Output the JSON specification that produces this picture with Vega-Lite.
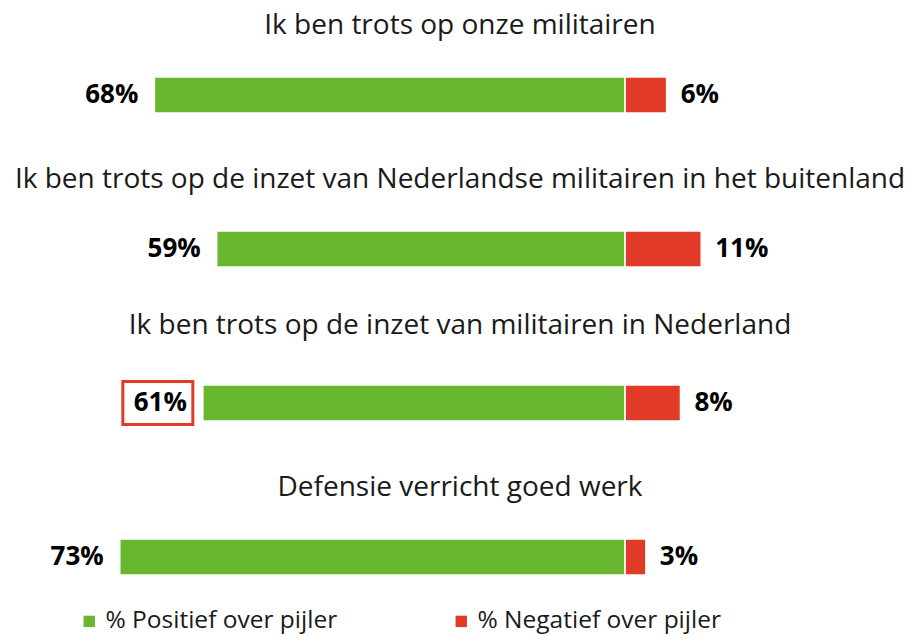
{
  "$schema": "https://vega.github.io/schema/vega-lite/v6.json",
  "background": "white",
  "padding": {"left": 0, "right": 0, "top": 12, "bottom": 30},
  "bounds": "flush",
  "config": {
    "view": {"stroke": null},
    "font": "Open Sans",
    "concat": {"spacing": 118},
    "title": {"fontSize": 28, "fontWeight": "normal", "color": "#1a1a1a", "anchor": "middle", "offset": 36, "baseline": "middle", "font": "Open Sans"}
  },
  "data": {
    "values": [
      {"question": "Ik ben trots op onze militairen", "category": "% Positief over pijler", "value": 68, "highlight": false},
      {"question": "Ik ben trots op onze militairen", "category": "% Negatief over pijler", "value": 6, "highlight": false},
      {"question": "Ik ben trots op de inzet van Nederlandse militairen in het buitenland", "category": "% Positief over pijler", "value": 59, "highlight": false},
      {"question": "Ik ben trots op de inzet van Nederlandse militairen in het buitenland", "category": "% Negatief over pijler", "value": 11, "highlight": false},
      {"question": "Ik ben trots op de inzet van militairen in Nederland", "category": "% Positief over pijler", "value": 61, "highlight": true},
      {"question": "Ik ben trots op de inzet van militairen in Nederland", "category": "% Negatief over pijler", "value": 8, "highlight": false},
      {"question": "Defensie verricht goed werk", "category": "% Positief over pijler", "value": 73, "highlight": false},
      {"question": "Defensie verricht goed werk", "category": "% Negatief over pijler", "value": 3, "highlight": false}
    ]
  },
  "transform": [
    {"calculate": "datum.category === '% Positief over pijler' ? -datum.value : datum.value", "as": "signed"},
    {"calculate": "datum.value + '%'", "as": "label"}
  ],
  "vconcat": [
    {
      "title": "Ik ben trots op onze militairen",
      "width": 920, "height": 36,
      "transform": [{"filter": "datum.question === 'Ik ben trots op onze militairen'"}],
      "encoding": {
        "y": {"field": "question", "type": "nominal", "axis": null, "scale": {"paddingInner": 0, "paddingOuter": 0}},
        "x": {"field": "signed", "type": "quantitative", "axis": null, "scale": {"domain": [-90.3, 42.6], "nice": false, "zero": false}}
      },
      "layer": [
        {"mark": {"type": "bar", "stroke": "white", "strokeWidth": 1.5},
         "encoding": {"x2": {"datum": 0},
           "color": {"field": "category", "type": "nominal", "scale": {"domain": ["% Positief over pijler", "% Negatief over pijler"], "range": ["#69B72E", "#E13A26"]},
             "legend": {"title": null, "orient": "none", "legendX": 77, "legendY": 532, "direction": "horizontal", "symbolType": "square", "symbolSize": 130, "symbolStrokeWidth": 0, "labelFontSize": 24.5, "labelFont": "Open Sans", "labelColor": "#1a1a1a", "labelOffset": 4, "labelLimit": 400, "columnPadding": 111}}}},
        {"transform": [{"filter": "datum.category === '% Positief over pijler'"}],
         "mark": {"type": "text", "align": "right", "dx": -16, "fontSize": 26, "fontWeight": "bold", "font": "Open Sans", "color": "#000000"},
         "encoding": {"text": {"field": "label"}}},
        {"transform": [{"filter": "datum.category === '% Negatief over pijler'"}],
         "mark": {"type": "text", "align": "left", "dx": 14, "fontSize": 26, "fontWeight": "bold", "font": "Open Sans", "color": "#000000"},
         "encoding": {"text": {"field": "label"}}}
      ]
    },
    {
      "title": "Ik ben trots op de inzet van Nederlandse militairen in het buitenland",
      "width": 920, "height": 36,
      "transform": [{"filter": "datum.question === 'Ik ben trots op de inzet van Nederlandse militairen in het buitenland'"}],
      "encoding": {
        "y": {"field": "question", "type": "nominal", "axis": null, "scale": {"paddingInner": 0, "paddingOuter": 0}},
        "x": {"field": "signed", "type": "quantitative", "axis": null, "scale": {"domain": [-90.3, 42.6], "nice": false, "zero": false}}
      },
      "layer": [
        {"mark": {"type": "bar", "stroke": "white", "strokeWidth": 1.5},
         "encoding": {"x2": {"datum": 0},
           "color": {"field": "category", "type": "nominal", "scale": {"domain": ["% Positief over pijler", "% Negatief over pijler"], "range": ["#69B72E", "#E13A26"]}}}},
        {"transform": [{"filter": "datum.category === '% Positief over pijler'"}],
         "mark": {"type": "text", "align": "right", "dx": -16, "fontSize": 26, "fontWeight": "bold", "font": "Open Sans", "color": "#000000"},
         "encoding": {"text": {"field": "label"}}},
        {"transform": [{"filter": "datum.category === '% Negatief over pijler'"}],
         "mark": {"type": "text", "align": "left", "dx": 14, "fontSize": 26, "fontWeight": "bold", "font": "Open Sans", "color": "#000000"},
         "encoding": {"text": {"field": "label"}}}
      ]
    },
    {
      "title": "Ik ben trots op de inzet van militairen in Nederland",
      "width": 920, "height": 36,
      "transform": [{"filter": "datum.question === 'Ik ben trots op de inzet van militairen in Nederland'"}],
      "encoding": {
        "y": {"field": "question", "type": "nominal", "axis": null, "scale": {"paddingInner": 0, "paddingOuter": 0}},
        "x": {"field": "signed", "type": "quantitative", "axis": null, "scale": {"domain": [-90.3, 42.6], "nice": false, "zero": false}}
      },
      "layer": [
        {"mark": {"type": "bar", "stroke": "white", "strokeWidth": 1.5},
         "encoding": {"x2": {"datum": 0},
           "color": {"field": "category", "type": "nominal", "scale": {"domain": ["% Positief over pijler", "% Negatief over pijler"], "range": ["#69B72E", "#E13A26"]}}}},
        {"transform": [{"filter": "datum.highlight"}],
         "mark": {"type": "point", "shape": "M-1,-0.614L1,-0.614L1,0.614L-1,0.614Z", "size": 4900, "filled": false, "stroke": "#E13A26", "strokeWidth": 3, "opacity": 1, "xOffset": -45},
         "encoding": {}},
        {"transform": [{"filter": "datum.category === '% Positief over pijler'"}],
         "mark": {"type": "text", "align": "right", "dx": -16, "fontSize": 26, "fontWeight": "bold", "font": "Open Sans", "color": "#000000"},
         "encoding": {"text": {"field": "label"}}},
        {"transform": [{"filter": "datum.category === '% Negatief over pijler'"}],
         "mark": {"type": "text", "align": "left", "dx": 14, "fontSize": 26, "fontWeight": "bold", "font": "Open Sans", "color": "#000000"},
         "encoding": {"text": {"field": "label"}}}
      ]
    },
    {
      "title": "Defensie verricht goed werk",
      "width": 920, "height": 36,
      "transform": [{"filter": "datum.question === 'Defensie verricht goed werk'"}],
      "encoding": {
        "y": {"field": "question", "type": "nominal", "axis": null, "scale": {"paddingInner": 0, "paddingOuter": 0}},
        "x": {"field": "signed", "type": "quantitative", "axis": null, "scale": {"domain": [-90.3, 42.6], "nice": false, "zero": false}}
      },
      "layer": [
        {"mark": {"type": "bar", "stroke": "white", "strokeWidth": 1.5},
         "encoding": {"x2": {"datum": 0},
           "color": {"field": "category", "type": "nominal", "scale": {"domain": ["% Positief over pijler", "% Negatief over pijler"], "range": ["#69B72E", "#E13A26"]}}}},
        {"transform": [{"filter": "datum.category === '% Positief over pijler'"}],
         "mark": {"type": "text", "align": "right", "dx": -16, "fontSize": 26, "fontWeight": "bold", "font": "Open Sans", "color": "#000000"},
         "encoding": {"text": {"field": "label"}}},
        {"transform": [{"filter": "datum.category === '% Negatief over pijler'"}],
         "mark": {"type": "text", "align": "left", "dx": 14, "fontSize": 26, "fontWeight": "bold", "font": "Open Sans", "color": "#000000"},
         "encoding": {"text": {"field": "label"}}}
      ]
    }
  ]
}
